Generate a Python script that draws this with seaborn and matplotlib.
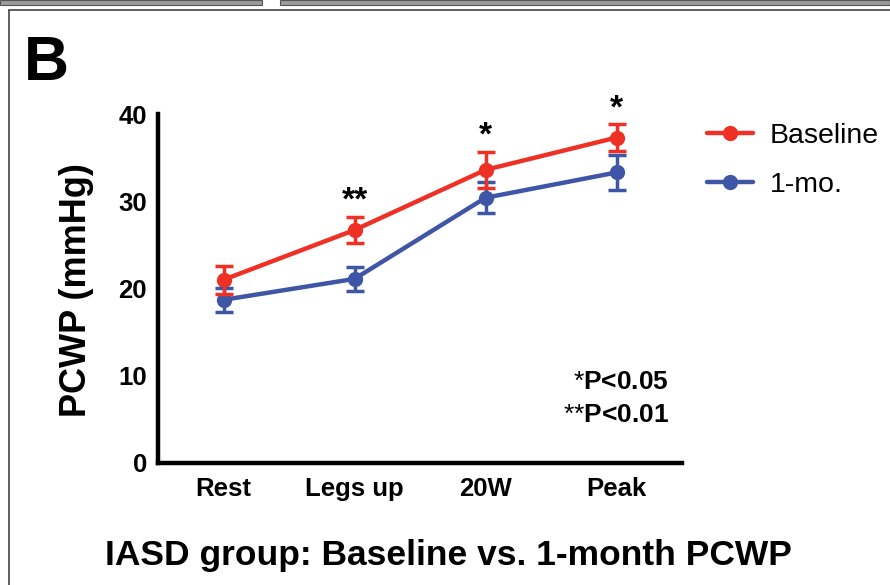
import numpy as np
import pandas as pd
import seaborn as sns
import matplotlib.pyplot as plt
from matplotlib.lines import Line2D
from matplotlib.patches import Rectangle

sns.set_theme(style="white")
plt.rcParams['font.family'] = ['Liberation Sans', 'DejaVu Sans']
plt.rcParams.update({
    "text.color": "black", "axes.labelcolor": "black",
    "xtick.color": "black", "ytick.color": "black",
    "mathtext.fontset": "custom", "mathtext.rm": "Liberation Sans",
    "mathtext.bf": "Liberation Sans:bold",
})

# values
stages = ["Rest", "Legs up", "20W", "Peak"]
baseline_mean = [21.0, 26.7, 33.6, 37.3]
baseline_sem = [1.6, 1.5, 2.1, 1.5]
month_mean = [18.7, 21.1, 30.4, 33.3]
month_sem = [1.4, 1.4, 1.8, 2.0]
stars = ["", "**", "*", "*"]

red = "#EE3124"
blue = "#3F55A5"

df = pd.DataFrame({
    "stage": stages * 2,
    "pcwp": month_mean + baseline_mean,
    "group": ["1-mo."] * 4 + ["Baseline"] * 4,
})

fig = plt.figure(figsize=(8.9, 5.85), dpi=100)
ax = fig.add_axes([158 / 890, 1 - 463 / 585, 524 / 890, 349 / 585])

sns.lineplot(data=df, x="stage", y="pcwp", hue="group", sort=False,
             palette={"Baseline": red, "1-mo.": blue},
             marker="o", markersize=11, markeredgewidth=0, linewidth=3.2,
             ax=ax, legend=False, zorder=3)

x = np.arange(len(stages))
for m, s, c in [(month_mean, month_sem, blue), (baseline_mean, baseline_sem, red)]:
    ax.errorbar(x, m, yerr=s, fmt="none", ecolor=c, elinewidth=2.5,
                capsize=6.5, capthick=2.5, zorder=4)

for xi, st, m, s in zip(x, stars, baseline_mean, baseline_sem):
    if st:
        ax.text(xi, m + s + 0.8, st, ha="center", va="baseline",
                fontsize=24, fontweight="bold", color="black")

ax.set_xlim(-0.5, 3.5)
ax.set_ylim(0, 40)
ax.set_yticks([0, 10, 20, 30, 40])
ax.set_xlabel("")
ax.set_ylabel("")
sns.despine(ax=ax)
for sp in ["left", "bottom"]:
    ax.spines[sp].set_linewidth(3.2)
    ax.spines[sp].set_color("black")
ax.tick_params(axis="both", length=7, width=3, color="black", direction="out")
ax.tick_params(axis="y", pad=1, labelsize=18.5)
ax.tick_params(axis="x", pad=3, labelsize=18.5)
for lab in ax.get_xticklabels() + ax.get_yticklabels():
    lab.set_fontweight("bold")

fig.text(76 / 890, 1 - 290 / 585, "PCWP (mmHg)", rotation=90, ha="center",
         va="center", fontsize=26, fontweight="bold")

# legend
handles = [Line2D([], [], color=red, lw=3.2, marker="o", markersize=11, markeredgewidth=0),
           Line2D([], [], color=blue, lw=3.2, marker="o", markersize=11, markeredgewidth=0)]
fig.legend(handles, ["Baseline", "1-mo."], loc="upper left",
           bbox_to_anchor=(707 / 890, 1 - 123 / 585), frameon=False,
           borderpad=0, borderaxespad=0, handlelength=1.6, handletextpad=0.6,
           labelspacing=0.8, prop={"size": 20.5})

ax.text(0.975, 0.232, r"$\mathrm{{*}}$P<0.05", transform=ax.transAxes, ha="right",
        va="center", fontsize=19, fontweight="bold")
ax.text(0.975, 0.1375, r"$\mathrm{{*}{*}}$P<0.01", transform=ax.transAxes, ha="right",
        va="center", fontsize=19, fontweight="bold")

fig.text(24 / 890, 1 - 80 / 585, "B", ha="left", va="baseline", fontsize=45,
         fontweight="bold")
fig.text(105 / 890, 1 - 556 / 585, "IASD group: Baseline vs. 1-month PCWP",
         ha="left", va="center", fontsize=25.5, fontweight="bold")

# panel frame
fig.add_artist(Rectangle((0, 1 - 5 / 585), 262 / 890, 5 / 585, transform=fig.transFigure,
                         facecolor="#9a9a9a", edgecolor="#555555", lw=0.8))
fig.add_artist(Rectangle((280 / 890, 1 - 5 / 585), 610 / 890, 5 / 585, transform=fig.transFigure,
                         facecolor="#9a9a9a", edgecolor="#555555", lw=0.8))
fig.add_artist(Line2D([9 / 890, 1], [1 - 10 / 585, 1 - 10 / 585], transform=fig.transFigure,
                      color="#444444", lw=1.2))
fig.add_artist(Line2D([9 / 890, 9 / 890], [0, 1 - 10 / 585], transform=fig.transFigure,
                      color="#444444", lw=1.2))

fig.savefig("out.png", dpi=100)
